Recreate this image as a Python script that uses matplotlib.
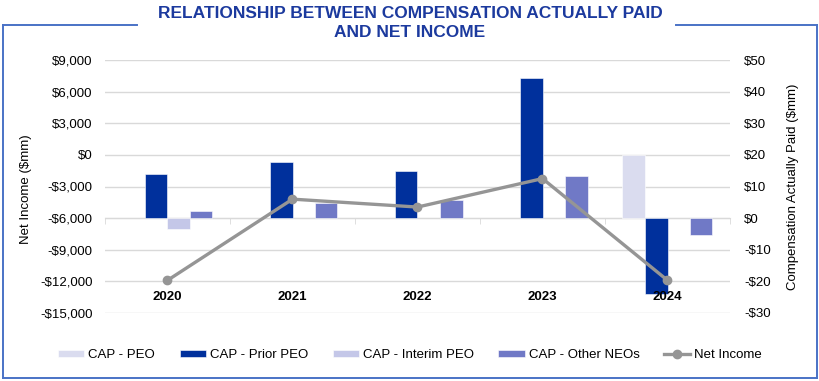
import numpy as np
import matplotlib
matplotlib.use("Agg")
import matplotlib.pyplot as plt
from matplotlib.lines import Line2D
from matplotlib.ticker import FuncFormatter, FixedLocator

plt.rcParams['font.family'] = ['Liberation Sans', 'DejaVu Sans']

years = ['2020', '2021', '2022', '2023', '2024']
cap_peo = [np.nan, np.nan, np.nan, np.nan, 20.0]
cap_prior_peo = [14.1, 17.6, 15.0, 44.2, -24.1]
cap_interim_peo = [-3.5, np.nan, np.nan, np.nan, np.nan]
cap_other_neos = [2.4, 4.7, 5.6, 13.2, -5.4]
net_income = [-11900, -4200, -4950, -2250, -11900]

series = [
    ('CAP - PEO', cap_peo, '#DADCEF'),
    ('CAP - Prior PEO', cap_prior_peo, '#00309C'),
    ('CAP - Interim PEO', cap_interim_peo, '#C4C7E8'),
    ('CAP - Other NEOs', cap_other_neos, '#7079C6'),
]

W, H = 820, 381
fig = plt.figure(figsize=(W / 100, H / 100), dpi=100)
fig.patch.set_facecolor('white')

left, right, top, bottom = 105, 730, 60, 313
ax_bar = fig.add_axes([left / W, 1 - bottom / H, (right - left) / W, (bottom - top) / H])
ax_line = ax_bar.twinx()

x = np.arange(len(years))
bw = 0.18
handles = []
for i, (name, vals, col) in enumerate(series):
    b = ax_bar.bar(x + (i - 1.5) * bw, vals, width=bw, color=col, label=name,
                   edgecolor='white', linewidth=0.4, zorder=3)
    handles.append(b)

ln, = ax_line.plot(x, net_income, color='#959595', lw=2.4, marker='o', ms=6,
                   label='Net Income', zorder=5)
handles.append(ln)

fmt = FuncFormatter(lambda v, p: f"-${abs(v):,.0f}" if v < 0 else f"${v:,.0f}")

# right axis = bars (CAP)
ax_bar.set_ylim(-30, 50)
ax_bar.set_yticks(np.arange(-30, 51, 10))
ax_bar.yaxis.tick_right()
ax_bar.yaxis.set_label_position('right')
ax_bar.yaxis.set_major_formatter(fmt)
ax_bar.grid(axis='y', color='#D9D9D9', lw=1, zorder=0)
ax_bar.set_axisbelow(True)
ax_bar.set_xlim(-0.5, 4.5)
ax_bar.set_xticks([])
ax_bar.xaxis.set_minor_locator(FixedLocator(np.arange(-0.5, 4.6, 1)))
ax_bar.tick_params(axis='x', which='minor', length=4, color='#D9D9D9', direction='out')
ax_bar.tick_params(axis='y', length=0, labelsize=9.5, pad=10)
for s in ['top', 'left', 'right']:
    ax_bar.spines[s].set_visible(False)
ax_bar.spines['bottom'].set_position(('data', 0))
ax_bar.spines['bottom'].set_color('#D9D9D9')
ax_bar.set_ylabel('Compensation Actually Paid ($mm)', fontsize=9.5)
ax_bar.yaxis.set_label_coords((787 - left) / (right - left), 0.5)

# left axis = line (Net income)
ax_line.set_ylim(-15000, 9000)
ax_line.set_yticks(np.arange(-15000, 9001, 3000))
ax_line.yaxis.tick_left()
ax_line.yaxis.set_label_position('left')
ax_line.yaxis.set_major_formatter(fmt)
ax_line.tick_params(axis='y', length=0, labelsize=9.5, pad=9)
for s in ['top', 'left', 'right', 'bottom']:
    ax_line.spines[s].set_visible(False)
ax_line.set_ylabel('Net Income ($mm)', fontsize=9.5)
ax_line.yaxis.set_label_coords((32 - left) / (right - left), 0.49)

for xi, yr in zip(x, years):
    ax_bar.text(xi, 0.063, yr, transform=ax_bar.get_xaxis_transform(),
                ha='center', va='center', fontsize=9.5, fontweight='bold')

fig.legend(handles=handles, labels=[h.get_label() for h in handles],
           loc='center', bbox_to_anchor=(0.5, 1 - 355 / H), ncol=5, frameon=False,
           fontsize=9.5, handlelength=2.0, handleheight=0.45, columnspacing=1.85,
           handletextpad=0.3)

# title
fig.text(0.5, 1 - 23 / H, 'RELATIONSHIP BETWEEN COMPENSATION ACTUALLY PAID\nAND NET INCOME',
         ha='center', va='center', fontsize=12.5, fontweight='bold', color='#1C3A9E',
         linespacing=1.3)

# frame with gap for title
fc = '#4A72C6'
fx0, fx1, fy0, fy1 = 3 / W, 817 / W, 1 - 378 / H, 1 - 25 / H
g0, g1 = 137 / W, 676 / W
for xs, ys in [([fx0, fx0], [fy0, fy1]), ([fx1, fx1], [fy0, fy1]), ([fx0, fx1], [fy0, fy0]),
               ([fx0, g0], [fy1, fy1]), ([g1, fx1], [fy1, fy1])]:
    fig.add_artist(Line2D(xs, ys, color=fc, lw=1.4, transform=fig.transFigure))

fig.savefig('out.png', dpi=100)
